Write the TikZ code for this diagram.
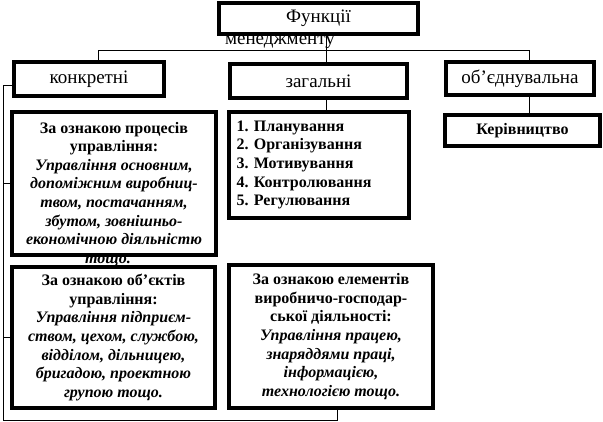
\documentclass[tikz,border=0pt]{standalone}
\usepackage{fontspec}
\setmainfont{Liberation Serif}
\frenchspacing
\usepackage{tikz}
\usetikzlibrary{positioning}

\begin{document}
\begin{tikzpicture}[
    x=1pt, y=-1pt,
    every node/.style={inner sep=2pt},
    box/.style={draw, line width=4.5pt, fill=white, align=center},
    head/.style={box, font=\fontsize{19}{22}\selectfont},
    sign/.style={box, font=\fontsize{16}{18.6}\selectfont\bfseries},
    link/.style={line width=0.8pt}
]
\useasboundingbox (0,0) rectangle (603,422);

% Text running out under the frames
\node[anchor=base, font=\fontsize{19}{22}\selectfont] (topTail) at (280,45) {менеджменту};
\node[anchor=base, font=\fontsize{16}{18.6}\selectfont\bfseries\itshape] (procTail) at (108,264) {тощо.};

% Root
\node[head, minimum width=199pt, minimum height=31pt] (top) at (318.5,18.5) {Функції};

% Kinds of functions
\node[head, minimum width=150pt, minimum height=34pt] (konk) at (89,79) {конкретні};
\node[head, minimum width=177pt, minimum height=34pt] (zag) at (318.5,81) {загальні};
\node[head, minimum width=148pt, minimum height=33pt] (obj) at (520,78.5) {об’єднувальна};

% Contents
\node[sign, minimum width=204pt, minimum height=143pt] (proc) at (114,183.5) {За ознакою процесів\\
    управління:\\ \itshape Управління основним,\\ \itshape допоміжним виробниц-\\
    \itshape твом, постачанням,\\ \itshape збутом, зовнішньо-\\ \itshape економічною діяльністю};
\node[sign, align=left, text width=165pt, inner xsep=7.5pt, minimum height=106pt] (plan) at (319,165)
    {1. Планування\\ 2. Організування\\ 3. Мотивування\\ 4. Контролювання\\ 5. Регулювання};
\node[sign, minimum width=155pt, minimum height=31pt] (kerivn) at (522.5,130.5) {Керівництво};
\node[sign, minimum width=203pt, minimum height=141pt] (obekt) at (113.5,337.5) {За ознакою об’єктів\\
    управління:\\ \itshape Управління підприєм-\\ \itshape ством, цехом, службою,\\
    \itshape відділом, дільницею,\\ \itshape бригадою, проектною\\ \itshape групою тощо.};
\node[sign, minimum width=204pt, minimum height=143pt] (elem) at (331,336.5) {За ознакою елементів\\
    виробничо-господар-\\ ської діяльності:\\ \itshape Управління працею,\\
    \itshape знаряддями праці,\\ \itshape інформацією,\\ \itshape технологією тощо.};

% Connectors
\coordinate (hubL) at (98,50);
\coordinate (hubM) at (326,50);
\coordinate (hubR) at (529,50);
\draw[link] (hubL |- konk.north) -- (hubL) -- (hubR) -- (hubR |- obj.north);
\draw[link] (hubM |- top.south) -- (hubM |- zag.north);
\draw[link] (hubM |- zag.south) -- (hubM |- plan.north);
\draw[link] (hubR |- obj.south) -- (hubR |- kerivn.north);

% Left bus
\coordinate (busT) at (3,85);
\coordinate (busB) at (3,420);
\coordinate (busE) at (337,420);
\draw[link] (konk.west |- busT) -- (busT) -- (busB) -- (busE) -- (busE |- elem.south);
\draw[link] (busT |- proc.west) -- (proc.west);
\draw[link] (busT |- obekt.west) -- (obekt.west);

\end{tikzpicture}
\end{document}
